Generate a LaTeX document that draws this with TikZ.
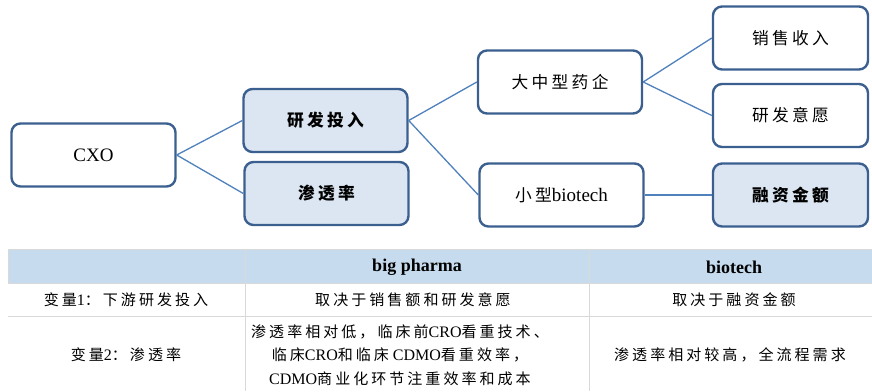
\documentclass[tikz,border=0pt]{standalone}
\usepackage{fontspec}
\setmainfont{Liberation Serif}
\newfontfamily\cjk[LetterSpace=20,Scale=0.88]{Noto Sans CJK SC}
\newfontfamily\cjkt[LetterSpace=20,Scale=0.94]{Noto Sans CJK SC}
\usetikzlibrary{positioning}
\definecolor{CXOLine}{HTML}{3B6090}
\definecolor{CXOFill}{HTML}{DCE6F2}
\definecolor{CXOLink}{HTML}{4F81BD}
\definecolor{TabHead}{HTML}{C6DBEE}
\definecolor{TabRule}{HTML}{D9D9D9}

\begin{document}
\begin{tikzpicture}[x=1pt, y=-1pt,
  box/.style={rectangle, rounded corners=9pt, draw=CXOLine, line width=2.4pt,
              fill=white, minimum width=164pt, minimum height=63pt,
              font=\fontsize{19}{22}\selectfont, text=black, align=center},
  boxhi/.style={box, fill=CXOFill, font=\fontsize{19}{22}\selectfont\bfseries},
  link/.style={draw=CXOLink, line width=1.3pt},
  cell/.style={font=\fontsize{16}{23.5}\selectfont, text=black, align=center},
  head/.style={cell, font=\fontsize{18}{20}\selectfont\bfseries},
  rule/.style={draw=TabRule, line width=1pt}
]
  \clip (0,0) rectangle (872,391);
  \fill[white] (0,0) rectangle (872,391);
  % tree
  \node[box]   (cxo)   at (93.5,155)  {CXO};
  \node[boxhi] (rdin)  at (325.5,120.5) {\cjk 研发投入};
  \node[boxhi] (pen)   at (326.5,193.5) {\cjk 渗透率};
  \node[box]   (big)   at (560,82)    {\cjk 大中型药企};
  \node[box]   (small) at (561.5,195) {{\cjk 小型}biotech};
  \node[box, minimum width=155pt]   (sales) at (790.5,38)    {\cjk 销售收入};
  \node[box, minimum width=155pt]   (will)  at (790.5,115.5) {\cjk 研发意愿};
  \node[boxhi, minimum width=155pt] (fund)  at (790.5,195)   {\cjk 融资金额};
  \draw[link] (cxo.east) -- (rdin.west);
  \draw[link] (cxo.east) -- (pen.west);
  \draw[link] (rdin.east) -- (big.west);
  \draw[link] (rdin.east) -- (small.west);
  \draw[link] (big.east) -- (sales.west);
  \draw[link] (big.east) -- (will.west);
  \draw[link] (small.east) -- (fund.west);
  % table
  \fill[TabHead] (8,249) rectangle (880,283);
  \draw[rule] (8,249) -- (880,249);
  \draw[rule] (8,283) -- (880,283);
  \draw[rule] (8,316) -- (880,316);
  \draw[rule] (8,249) -- (8,283);
  \draw[rule] (245,249) -- (245,391);
  \draw[rule] (589,249) -- (589,391);
  \node[head] (hbig) at (417,267) {big pharma};
  \node[head] (hbio) at (734,267) {biotech};
  \node[cell] (v1)  at (126,300) {{\cjkt 变量}1{\cjkt ：下游研发投入}};
  \node[cell] (v1a) at (413,300) {\cjkt 取决于销售额和研发意愿};
  \node[cell] (v1b) at (734,300) {\cjkt 取决于融资金额};
  \node[cell] (v2)  at (126,355) {{\cjkt 变量}2{\cjkt ：渗透率}};
  \node[cell] (v2a) at (400,355) {{\cjkt 渗透率相对低，临床前}CRO{\cjkt 看重技术、}\\
    {\cjkt 临床}CRO{\cjkt 和临床} CDMO{\cjkt 看重效率，}\\
    CDMO{\cjkt 商业化环节注重效率和成本}};
  \node[cell] (v2b) at (730,355) {\cjkt 渗透率相对较高，全流程需求};
\end{tikzpicture}
\end{document}
